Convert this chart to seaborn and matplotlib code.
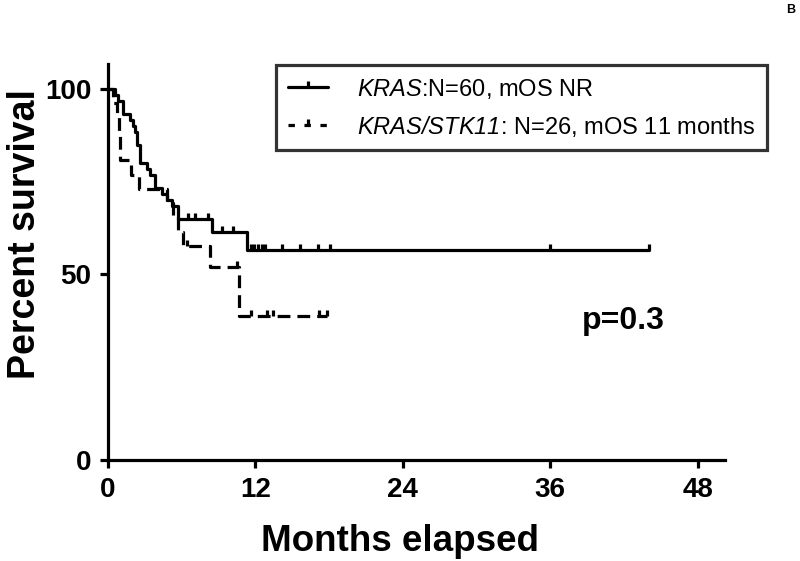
import numpy as np
import pandas as pd
import matplotlib
matplotlib.use("Agg")
import matplotlib.pyplot as plt
import seaborn as sns
from matplotlib.path import Path
from matplotlib.lines import Line2D

# KRAS curve (step times in months, survival %)
kras_time = [0, 0.6, 0.8, 1.2, 1.8, 2.0, 2.2, 2.4, 2.6, 3.2, 3.4, 3.8, 4.4, 4.8, 5.2, 5.7, 8.5, 11.3]
kras_surv = [100, 98.3, 96.7, 93.3, 91.7, 90, 88.3, 85, 80, 78.3, 76.7, 73.3, 71.7, 70, 68.3, 65, 61.5, 56.6]
kras_end = 44
kras_censor = [6.5, 7.1, 8.1, 9.3, 10.2, 11.6, 11.9, 12.2, 12.5, 12.8, 14.2, 15.6, 17.1, 18.1, 36, 44]

# KRAS/STK11 curve
stk_time = [0, 0.4, 0.7, 0.9, 1.0, 1.9, 2.5, 4.8, 5.3, 5.7, 6.1, 8.3, 10.7]
stk_surv = [100, 96.2, 92.3, 88.5, 80.8, 76.9, 73.1, 69.2, 65.4, 61.5, 57.7, 51.9, 38.9]
stk_end = 17.8
stk_censor = [6.4, 10.5, 11.6, 12.9, 13.4, 17.2, 17.8]

labels = [r"$\mathsf{KRAS}$:N=60, mOS NR", r"$\mathsf{KRAS/STK11}$: N=26, mOS 11 months"]
x_ticks = [0, 12, 24, 36, 48]
y_ticks = [0, 50, 100]

sns.set_theme(style="ticks")
plt.rcParams["font.family"] = ["Liberation Sans", "DejaVu Sans"]
plt.rcParams["mathtext.fontset"] = "custom"
plt.rcParams["mathtext.sf"] = "Liberation Sans:italic"
plt.rcParams["mathtext.rm"] = "Liberation Sans"
for k in ["text.color", "axes.labelcolor", "xtick.color", "ytick.color", "axes.edgecolor"]:
    plt.rcParams[k] = "black"

fig = plt.figure(figsize=(8, 5.61), dpi=100)
ax = fig.add_axes([0.135, 0.18, 0.771, 0.706])

# upward censor tick marker
tick_mark = Path([(0, 0), (0, 1)], [Path.MOVETO, Path.LINETO])
lw = 2.3


def step_df(t, s, end):
    return pd.DataFrame({"t": list(t) + [end], "s": list(s) + [s[-1]]})


def censor_vals(t, s, c):
    idx = np.searchsorted(t, c, side="right") - 1
    return np.array(s)[idx]


d1 = step_df(kras_time, kras_surv, kras_end)
sns.lineplot(data=d1, x="t", y="s", drawstyle="steps-post", estimator=None,
             sort=False, color="black", lw=lw, ax=ax)
ax.plot(kras_censor, censor_vals(kras_time, kras_surv, kras_censor), ls="none",
        marker=tick_mark, ms=9, mew=lw, color="black")

d2 = step_df(stk_time, stk_surv, stk_end)
sns.lineplot(data=d2, x="t", y="s", drawstyle="steps-post", estimator=None,
             sort=False, color="black", lw=lw, ax=ax)
ax.lines[-1].set_linestyle((0, (4, 2.2)))
ax.plot(stk_censor, censor_vals(stk_time, stk_surv, stk_censor), ls="none",
        marker=tick_mark, ms=9, mew=lw, color="black")

ax.set_xlim(0, 50.2)
ax.set_ylim(0, 106.7)
ax.set_xticks(x_ticks)
ax.set_yticks(y_ticks)
sns.despine(ax=ax)
for sp in ["left", "bottom"]:
    ax.spines[sp].set_linewidth(lw)
ax.tick_params(width=lw, length=6, pad=6)
for lab in ax.get_xticklabels() + ax.get_yticklabels():
    lab.set_fontweight("bold")
    lab.set_fontsize(20)

ax.set_xlabel("Months elapsed", fontsize=26.5, fontweight="bold")
ax.set_ylabel("Percent survival", fontsize=27, fontweight="bold")
ax.xaxis.set_label_coords(0.473, -0.162)
ax.yaxis.set_label_coords(-0.106, 0.57)

handles = [
    Line2D([], [], color="black", lw=lw, marker=tick_mark, ms=9, mew=lw),
    Line2D([], [], color="black", lw=lw, ls=(0, (2, 3)), marker=tick_mark, ms=9, mew=lw),
]
leg = ax.legend(handles, labels, loc="upper right", bbox_to_anchor=(1.068, 0.998),
                fontsize=17, frameon=True, fancybox=False, edgecolor="black",
                handlelength=1.7, handletextpad=1.2, borderpad=0.5, labelspacing=0.55,
                borderaxespad=0)
leg.get_frame().set_linewidth(lw)

ax.text(0.835, 0.35, "p=0.3", transform=ax.transAxes, ha="center", va="center",
        fontsize=23, fontweight="bold")
fig.text(0.988, 0.982, "B", ha="center", va="center", fontsize=9, fontweight="bold")

fig.savefig("out.png", dpi=100, facecolor="white")
